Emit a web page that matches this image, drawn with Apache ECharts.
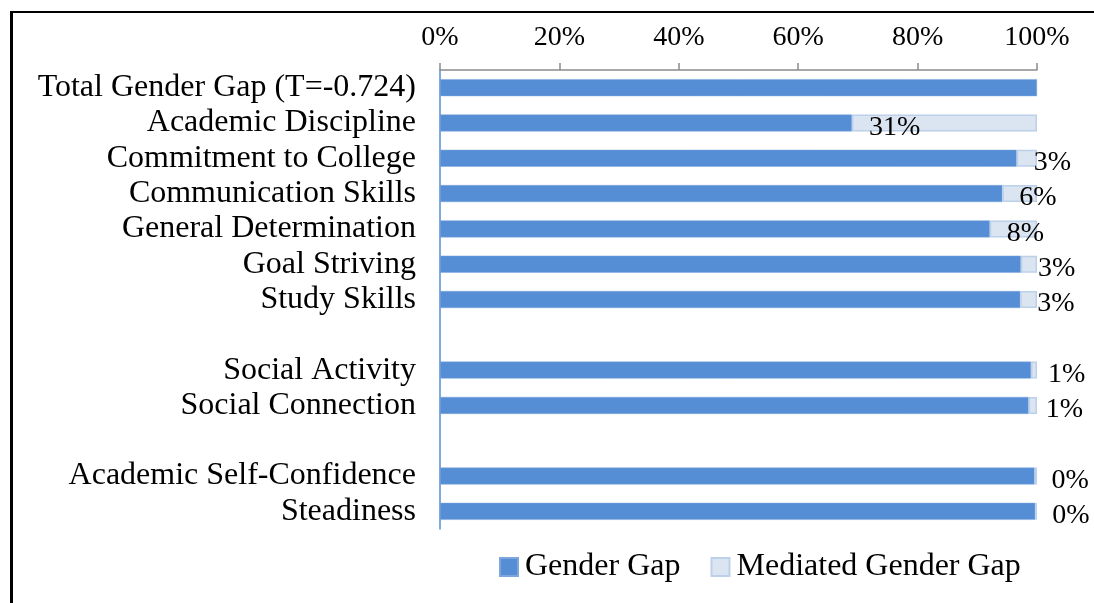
<!DOCTYPE html>
<html>
<head>
<meta charset="utf-8">
<script src="https://cdn.jsdelivr.net/npm/echarts@6/dist/echarts.min.js"></script>
<style>
html,body{margin:0;padding:0;background:#fff;}
#chart{width:1094px;height:603px;}
</style>
</head>
<body>
<div id="chart"></div>
<script>
const categories = [
  'Total Gender Gap (T=-0.724)',
  'Academic Discipline',
  'Commitment to College',
  'Communication Skills',
  'General Determination',
  'Goal Striving',
  'Study Skills',
  '',
  'Social Activity',
  'Social Connection',
  ' ',
  'Academic Self-Confidence',
  'Steadiness'
];
const genderGap = [100, 69, 96.6, 94.2, 92.1, 97.3, 97.2, '-', 99.0, 98.6, '-', 99.6, 99.7];
const mediatedGap = ['-', 31, 3.4, 5.8, 7.9, 2.7, 2.8, '-', 1.0, 1.4, '-', 0.4, 0.3];
const xTicks = [0, 20, 40, 60, 80, 100];

const FONT = 'Liberation Serif';
const chart = echarts.init(document.getElementById('chart'), null, {renderer: 'canvas'});
chart.setOption({
  backgroundColor: '#ffffff',
  animation: false,
  graphic: [
    {type: 'line', shape: {x1: 11.5, y1: 11, x2: 11.5, y2: 610}, style: {stroke: '#000', lineWidth: 3}},
    {type: 'line', shape: {x1: 10, y1: 12, x2: 1100, y2: 12}, style: {stroke: '#000', lineWidth: 2}}
  ],
  grid: {left: 440, right: 57, top: 70, bottom: 74, containLabel: false},
  legend: {
    left: 494, top: 546,
    itemWidth: 18, itemHeight: 18, itemGap: 30,
    icon: 'rect',
    textStyle: {fontFamily: FONT, fontSize: 32, color: '#000', padding: [0, 0, 0, 2]},
    data: ['Gender Gap', 'Mediated Gender Gap']
  },
  xAxis: {
    type: 'value', position: 'top', min: xTicks[0], max: xTicks[xTicks.length - 1], interval: 20,
    axisLine: {show: true, lineStyle: {color: '#8c8c8c', width: 1.5}},
    axisTick: {show: true, length: 7, lineStyle: {color: '#8c8c8c', width: 1.5}},
    splitLine: {show: false},
    axisLabel: {formatter: '{value}%', fontFamily: FONT, fontSize: 28, color: '#000', margin: 18}
  },
  yAxis: {
    type: 'category', inverse: true, data: categories,
    axisLine: {show: true, lineStyle: {color: '#558ed5', width: 1.5}},
    axisTick: {show: false},
    axisLabel: {interval: 0, fontFamily: FONT, fontSize: 32, color: '#000', margin: 24, padding: [3, 0, 0, 0]}
  },
  series: [
    {
      name: 'Gender Gap', type: 'bar', stack: 'g', data: genderGap, barWidth: 17,
      itemStyle: {color: '#558ed5', borderColor: '#7ea6dd', borderWidth: 0.5}
    },
    {
      name: 'Mediated Gender Gap', type: 'bar', stack: 'g', data: mediatedGap, barWidth: 17,
      itemStyle: {color: '#dbe5f1', borderColor: '#bcd0ea', borderWidth: 1.5},
      label: {
        show: true, position: [17, 13], align: 'left', verticalAlign: 'middle',
        fontFamily: FONT, fontSize: 28, color: '#000',
        formatter: p => Math.round(p.value) + '%'
      }
    }
  ]
});
</script>
</body>
</html>
